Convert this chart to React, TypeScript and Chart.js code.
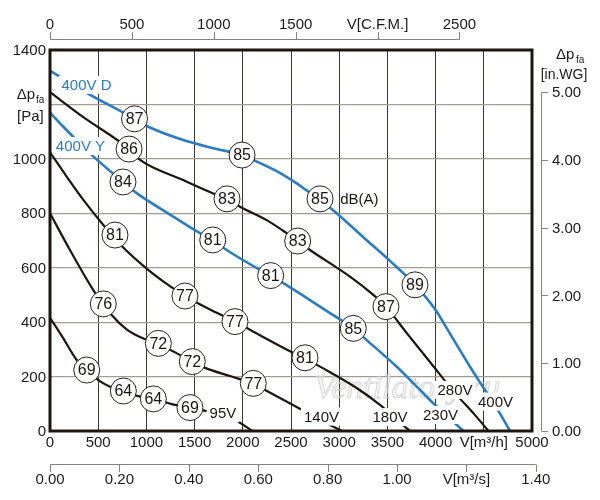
import { useEffect, useRef } from 'react';
import { Chart, registerables } from 'chart.js';

Chart.register(...registerables);

const FONT = '"Liberation Sans", Arial, sans-serif';
const INK = '#1c1510';
const BLUE = '#2a7cc4';

// fan curves: [V m³/h, Δp Pa]
const curve400D = [[0, 1324], [329, 1253], [877, 1147], [1020, 1118], [1383, 1069], [1694, 1039], [1992, 1014], [2144, 990], [2351, 955], [2524, 918], [2663, 884], [2801, 850], [2974, 800], [3250, 712], [3527, 625], [3786, 537], [4000, 445], [4115, 378], [4357, 236], [4495, 160], [4650, 75], [4772, 0]];
const curve280V = [[0, 1245], [346, 1153], [820, 1036], [934, 996], [1383, 922], [1694, 873], [1836, 853], [1971, 824], [2248, 775], [2455, 727], [2569, 698], [2697, 665], [3112, 567], [3354, 500], [3485, 457], [3700, 360], [3950, 250], [4200, 140], [4400, 62], [4550, 0]];
const curve400Y = [[0, 1170], [138, 1118], [415, 1020], [757, 915], [899, 874], [1279, 788], [1556, 727], [1688, 702], [1833, 665], [2178, 592], [2289, 571], [2420, 543], [2697, 481], [2905, 433], [3146, 377], [3285, 334], [3597, 236], [3838, 151], [3976, 102], [4184, 34], [4288, 0]];
const curve180V = [[0, 1024], [173, 935], [346, 849], [553, 757], [744, 680], [1003, 597], [1245, 532], [1400, 496], [1650, 448], [1919, 402], [2178, 352], [2490, 293], [2645, 266], [2835, 230], [3181, 158], [3423, 96], [3600, 40], [3734, 0]];
const curve140V = [[0, 800], [207, 665], [449, 518], [553, 467], [640, 426], [795, 373], [934, 345], [1124, 320], [1366, 276], [1476, 255], [1608, 232], [1885, 200], [2109, 173], [2265, 144], [2559, 88], [2905, 22], [3030, 0]];
const curve95V = [[0, 416], [135, 342], [277, 261], [381, 224], [501, 187], [622, 163], [761, 147], [916, 128], [1072, 118], [1262, 99], [1452, 86], [1590, 76], [1919, 40], [2100, 0]];

// sound level marks: [V m³/h, Δp Pa, dB(A)]
const marks400D = [[877, 1147, 87], [1992, 1014, 85], [2801, 853, 85], [3786, 537, 89]];
const marks280V = [[820, 1036, 86], [1836, 853, 83], [2569, 698, 83], [3485, 457, 87]];
const marks400Y = [[757, 915, 84], [1688, 702, 81], [2289, 571, 81], [3146, 377, 85]];
const marks180V = [[674, 720, 81], [1400, 496, 77], [1919, 402, 77], [2645, 269, 81]];
const marks140V = [[553, 467, 76], [1124, 322, 72], [1476, 255, 72], [2109, 175, 77]];
const marks95V = [[381, 224, 69], [761, 147, 64], [1072, 118, 64], [1452, 86, 69]];

// curve names: [text, V m³/h, Δp Pa, blue?]
const curveNames: [string, number, number, boolean][] = [
  ['400V D', 379, 1272, true],
  ['400V Y', 316, 1047, true],
  ['95V', 1794, 65, false],
  ['140V', 2816, 53, false],
  ['180V', 3527, 51, false],
  ['230V', 4051, 59, false],
  ['280V', 4201, 151, false],
  ['400V', 4621, 108, false],
];

const flowTicks = [0, 500, 1000, 1500, 2000, 2500, 3000, 3500, 4000, 4500, 5000];
const flowLabels = ['0', '500', '1000', '1500', '2000', '2500', '3000', '3500', '4000', 'V[m³/h]', '5000'];
const paTicks = [0, 200, 400, 600, 800, 1000, 1400];
const cfmTicks = [0, 500, 1000, 1500, 2000, 2500];
const cfmLabels = ['0', '500', '1000', '1500', 'V[C.F.M.]', '2500'];
const m3sTicks = [0, 0.2, 0.4, 0.6, 0.8, 1.0, 1.2, 1.4];
const m3sLabels = ['0.00', '0.20', '0.40', '0.60', '0.80', '1.00', 'V[m³/s]', '1.40'];
const inwgTicks = [0, 1, 2, 3, 4, 5];

const CFM = 1.69901; // m³/h per cfm
const PA_PER_INWG = 249.089;

const toXY = (pts: number[][]) => pts.map(([x, y]) => ({ x, y }));

const lineSet = (pts: number[][], blue: boolean) => ({
  type: 'scatter' as const,
  data: toXY(pts),
  showLine: true,
  borderColor: blue ? BLUE : INK,
  borderWidth: blue ? 2.6 : 2.2,
  pointRadius: 0,
  cubicInterpolationMode: 'monotone' as const,
  order: 2,
});

const allMarks = [...marks400D, ...marks280V, ...marks400Y, ...marks180V, ...marks140V, ...marks95V];

const decorations = {
  id: 'decorations',
  beforeDatasetsDraw(chart: Chart) {
    const { ctx, scales } = chart;
    const x = scales.x;
    const y = scales.y;
    ctx.save();
    ctx.font = `italic 34px "Liberation Serif", serif`;
    ctx.fillStyle = 'rgba(240,240,240,0.6)';
    ctx.strokeStyle = 'rgba(185,185,185,0.55)';
    ctx.lineWidth = 1;
    ctx.textBaseline = 'alphabetic';
    const wx = x.getPixelForValue(2740);
    const wy = y.getPixelForValue(120);
    ctx.fillText('Ventilatory.ru', wx, wy);
    ctx.strokeText('Ventilatory.ru', wx, wy);
    ctx.restore();
  },
  afterDatasetsDraw(chart: Chart) {
    const { ctx, scales, chartArea } = chart;
    const x = scales.x;
    const y = scales.y;
    const { left, right, top, bottom } = chartArea;
    ctx.save();
    ctx.textBaseline = 'middle';

    // curve names with white backing
    ctx.font = `15px ${FONT}`;
    curveNames.forEach(([text, vx, vy, blue]) => {
      const px = x.getPixelForValue(vx);
      const py = y.getPixelForValue(vy);
      const w = ctx.measureText(text).width;
      ctx.fillStyle = '#fff';
      ctx.fillRect(px - w / 2 - 3, py - 9, w + 6, 18);
      ctx.fillStyle = blue ? BLUE : INK;
      ctx.textAlign = 'center';
      ctx.fillText(text, px, py + 1);
    });
    ctx.textAlign = 'left';
    ctx.fillStyle = INK;
    ctx.fillText('dB(A)', x.getPixelForValue(3010), y.getPixelForValue(853) + 1);

    // numbers in the circles
    const meta = chart.getDatasetMeta(chart.data.datasets.length - 1);
    ctx.font = `16px ${FONT}`;
    ctx.textAlign = 'center';
    meta.data.forEach((pt: any, i: number) => {
      ctx.fillText(String(allMarks[i][2]), pt.x, pt.y + 1);
    });

    // frame
    ctx.strokeStyle = INK;
    ctx.lineWidth = 3;
    ctx.strokeRect(left, top, right - left, bottom - top);

    ctx.fillStyle = '#1a1a1a';
    ctx.strokeStyle = '#8a837c';
    ctx.lineWidth = 1;
    ctx.font = `15px ${FONT}`;

    // left axis labels
    ctx.textAlign = 'right';
    paTicks.forEach((v) => ctx.fillText(String(v), left - 4, y.getPixelForValue(v) + 1));
    ctx.fillText('Δp', left - 15, y.getPixelForValue(1235));
    ctx.font = `10px ${FONT}`;
    ctx.textAlign = 'left';
    ctx.fillText('fa', left - 14, y.getPixelForValue(1235) + 5);
    ctx.font = `15px ${FONT}`;
    ctx.fillText('[Pa]', left - 33, y.getPixelForValue(1153));

    // bottom m³/h labels
    ctx.textAlign = 'center';
    flowTicks.forEach((v, i) => ctx.fillText(flowLabels[i], x.getPixelForValue(v), bottom + 12));

    // top C.F.M. axis
    const ty = top - 11;
    ctx.beginPath();
    ctx.moveTo(x.getPixelForValue(0), ty + 0.5);
    ctx.lineTo(x.getPixelForValue(cfmTicks[cfmTicks.length - 1] * CFM), ty + 0.5);
    cfmTicks.forEach((v) => {
      const px = Math.round(x.getPixelForValue(v * CFM)) + 0.5;
      ctx.moveTo(px, ty + 0.5);
      ctx.lineTo(px, ty - 7);
    });
    ctx.stroke();
    cfmTicks.forEach((v, i) => ctx.fillText(cfmLabels[i], x.getPixelForValue(v * CFM), top - 25));

    // bottom m³/s axis
    const by = bottom + 33;
    ctx.beginPath();
    ctx.moveTo(x.getPixelForValue(0), by + 0.5);
    ctx.lineTo(x.getPixelForValue(m3sTicks[m3sTicks.length - 1] * 3600), by + 0.5);
    m3sTicks.forEach((v) => {
      const px = Math.round(x.getPixelForValue(v * 3600)) + 0.5;
      ctx.moveTo(px, by + 0.5);
      ctx.lineTo(px, by + 8);
    });
    ctx.stroke();
    m3sTicks.forEach((v, i) => ctx.fillText(m3sLabels[i], x.getPixelForValue(v * 3600), bottom + 49));

    // right in.WG axis
    const rx = right + 9;
    ctx.beginPath();
    ctx.moveTo(rx + 0.5, y.getPixelForValue(0));
    ctx.lineTo(rx + 0.5, y.getPixelForValue(inwgTicks[inwgTicks.length - 1] * PA_PER_INWG));
    inwgTicks.forEach((v) => {
      const py = Math.round(y.getPixelForValue(v * PA_PER_INWG)) + 0.5;
      ctx.moveTo(rx + 0.5, py);
      ctx.lineTo(rx + 7, py);
    });
    ctx.stroke();
    ctx.textAlign = 'left';
    inwgTicks.forEach((v) => ctx.fillText(v.toFixed(2), rx + 11, y.getPixelForValue(v * PA_PER_INWG) + 1));
    ctx.fillText('Δp', right + 24, top + 5);
    ctx.font = `10px ${FONT}`;
    ctx.fillText('fa', right + 44, top + 10);
    ctx.font = `14px ${FONT}`;
    ctx.textAlign = 'center';
    ctx.fillText('[in.WG]', right + 32, top + 25);

    ctx.restore();
  },
};

export default function App() {
  const canvasRef = useRef<HTMLCanvasElement>(null);

  useEffect(() => {
    if (!canvasRef.current) return;
    const chart = new Chart(canvasRef.current, {
      type: 'scatter',
      data: {
        datasets: [
          lineSet(curve95V, false),
          lineSet(curve140V, false),
          lineSet(curve180V, false),
          lineSet(curve400Y, true),
          lineSet(curve280V, false),
          lineSet(curve400D, true),
          {
            type: 'scatter',
            data: toXY(allMarks),
            pointRadius: 13,
            pointBackgroundColor: '#fff',
            pointBorderColor: '#2a211a',
            pointBorderWidth: 1,
            order: 1,
          },
        ],
      },
      options: {
        responsive: false,
        animation: false,
        events: [],
        layout: { padding: { left: 50, top: 50, right: 68, bottom: 69 } },
        plugins: { legend: { display: false }, tooltip: { enabled: false } },
        scales: {
          x: {
            type: 'linear',
            min: 0,
            max: 5000,
            ticks: { display: false, stepSize: 500 },
            grid: { color: '#3e352c', lineWidth: 1, drawTicks: false },
            border: { display: false },
          },
          y: {
            type: 'linear',
            min: 0,
            max: 1400,
            ticks: { display: false, stepSize: 200 },
            grid: { color: '#a39c92', lineWidth: 1.2, drawTicks: false },
            border: { display: false },
          },
        },
      },
      plugins: [decorations],
    });
    return () => chart.destroy();
  }, []);

  return (
    <div style={{ position: 'absolute', left: 0, top: 0, width: 600, height: 500, background: '#fff' }}>
      <canvas ref={canvasRef} width={600} height={500} />
    </div>
  );
}
